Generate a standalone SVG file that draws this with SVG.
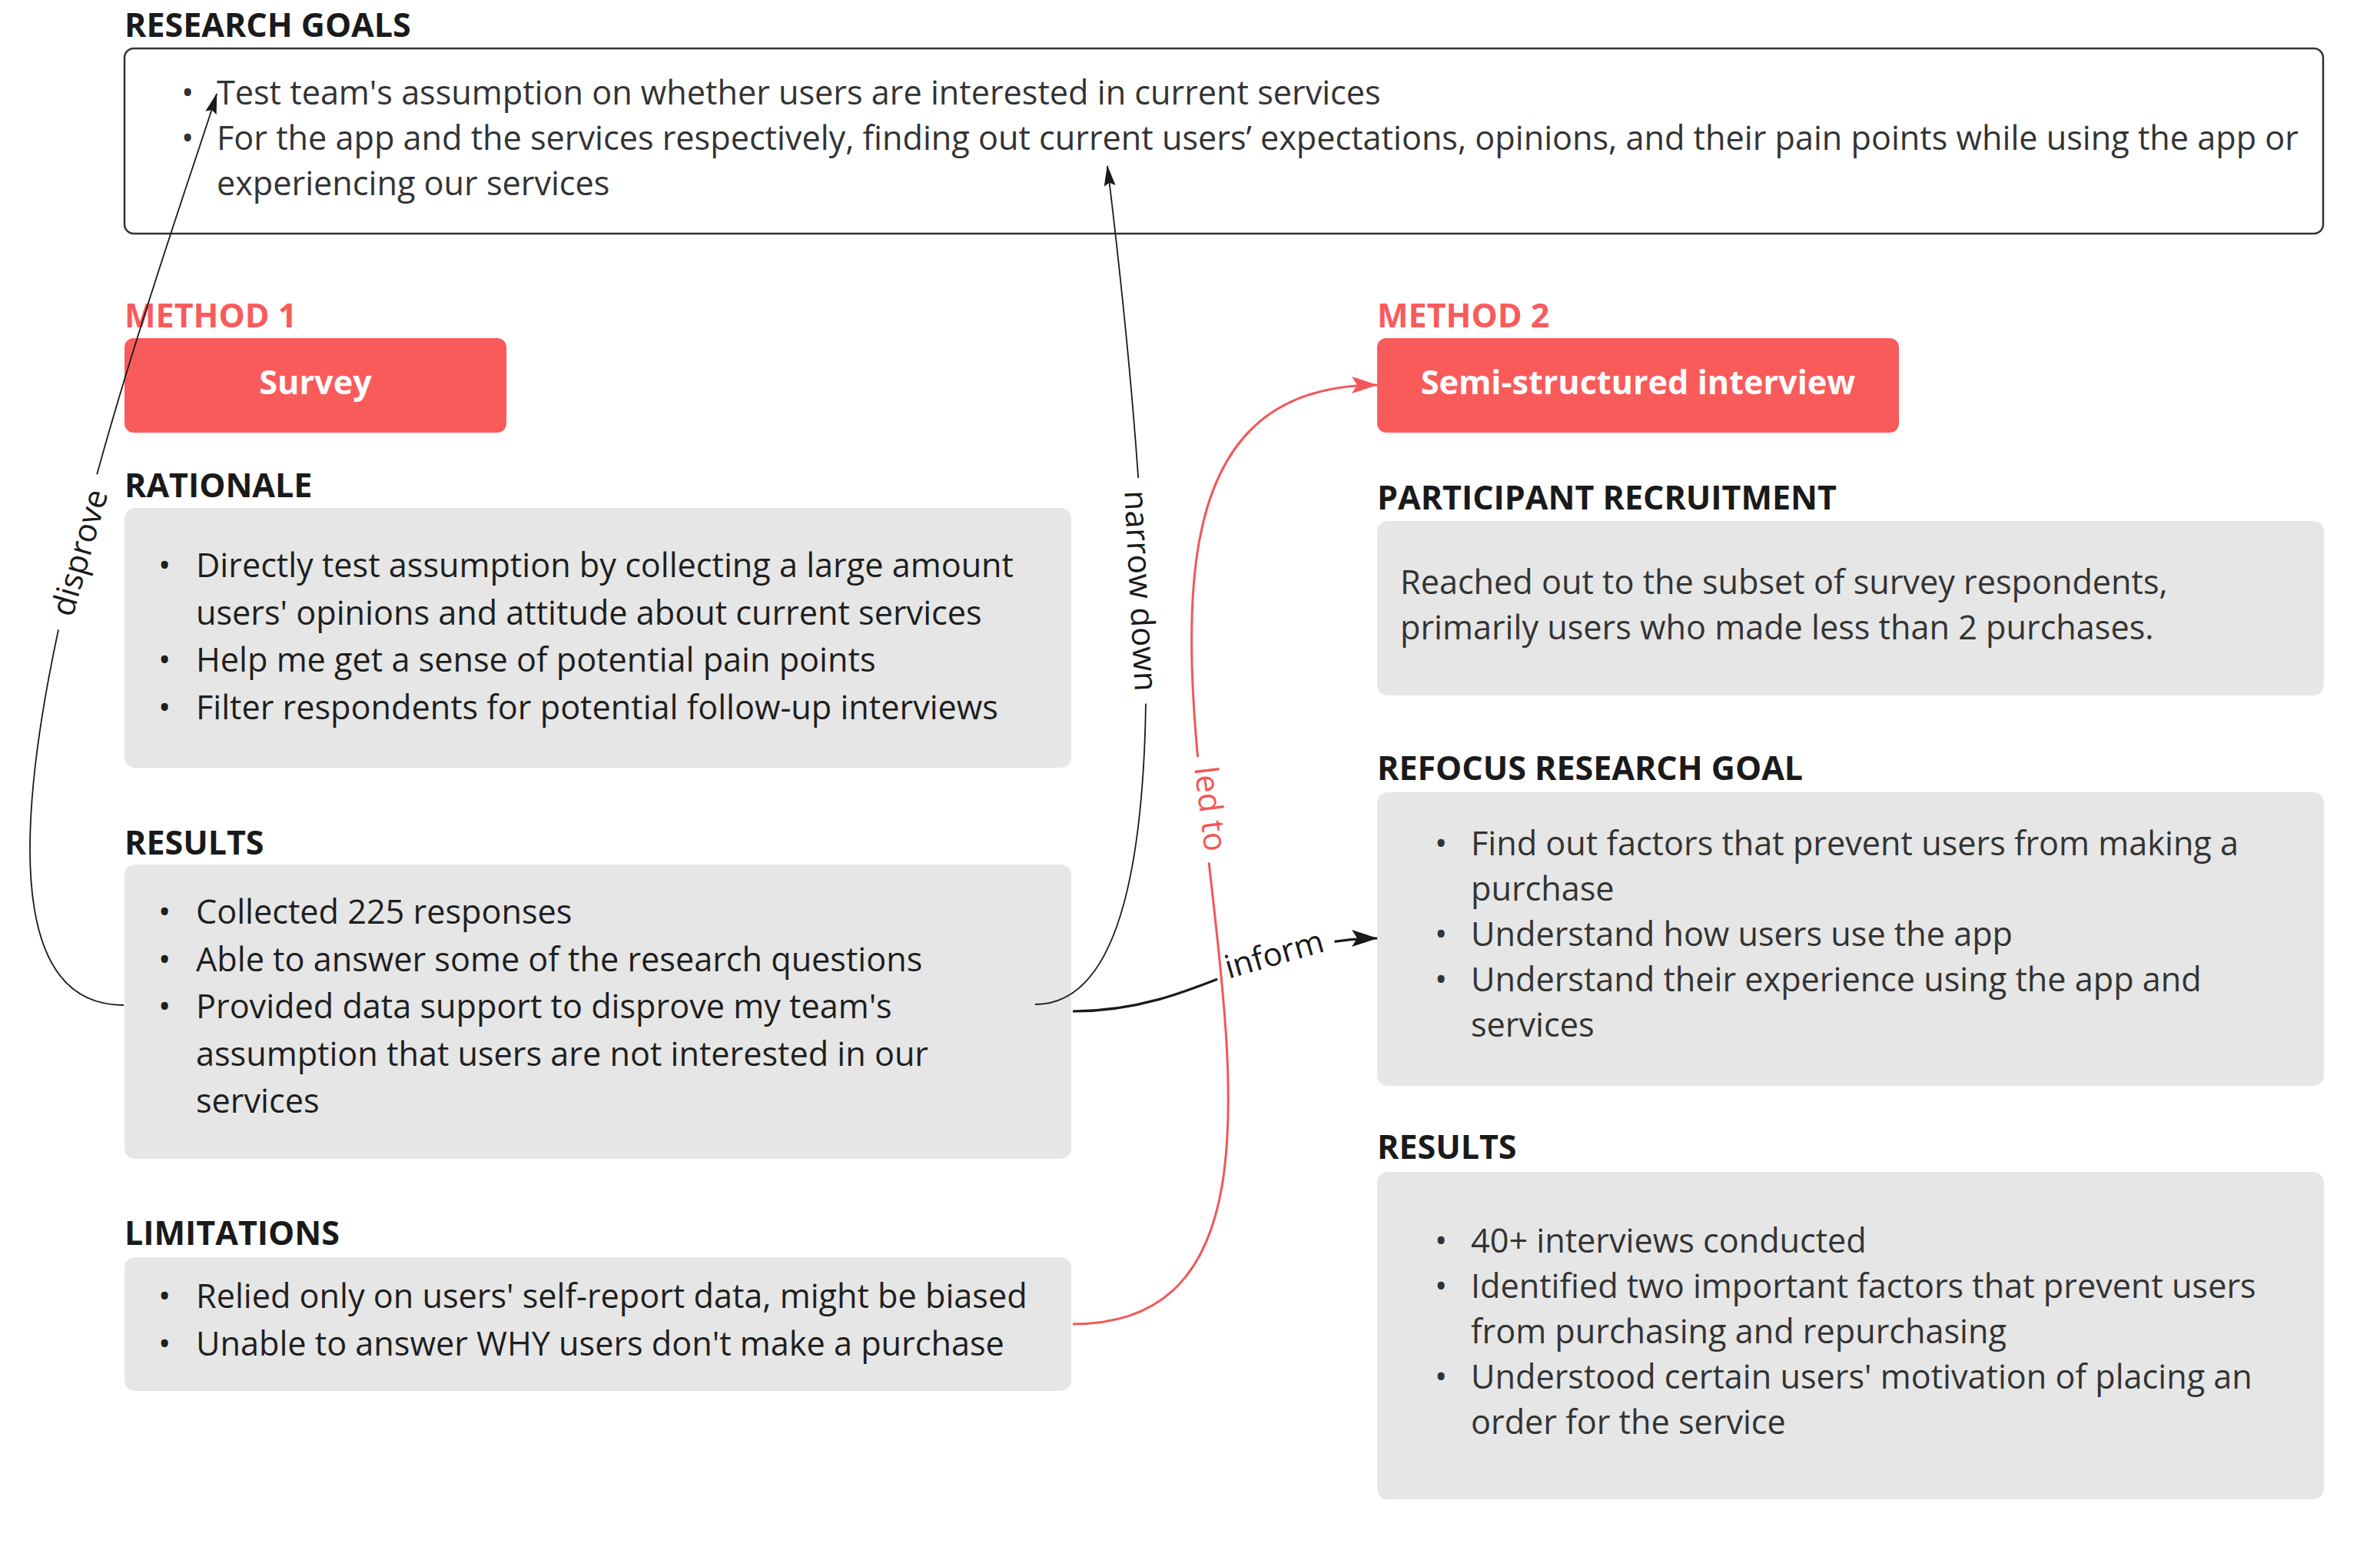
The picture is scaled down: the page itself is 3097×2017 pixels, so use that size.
<svg xmlns="http://www.w3.org/2000/svg" width="3097" height="2017" viewBox="0 0 3097 2017">
<style>
.h{font-family:"Open Sans","Noto Sans",sans-serif;font-weight:700;font-size:43px;fill:#1a1a1a}
.m{font-family:"Open Sans","Noto Sans",sans-serif;font-weight:700;font-size:43px;fill:#f95b5b}
.bt{font-family:"Open Sans","Noto Sans",sans-serif;font-weight:700;font-size:43.2px;fill:#ffffff}
.tl{font-family:"Open Sans","Noto Sans",sans-serif;font-size:43.2px;fill:#1e1e1e}
.tr{font-family:"Open Sans","Noto Sans",sans-serif;font-size:43.2px;fill:#333333}
.box{fill:#e6e6e6}
.btn{fill:#f95b5b}
.lbl{font-family:"Open Sans","Noto Sans",sans-serif;font-size:42px;fill:#1a1a1a}
.lblr{font-family:"Open Sans","Noto Sans",sans-serif;font-size:42px;fill:#f25757}
.bg{fill:#ffffff}
</style>
<defs>
<marker id="ah" markerUnits="userSpaceOnUse" viewBox="0 0 27 15" refX="26" refY="7.5" markerWidth="27" markerHeight="15" orient="auto">
<path d="M0,0 L27,7.5 L0,15 L4,7.5 Z" fill="#1a1a1a"/>
</marker>
<marker id="ahb" markerUnits="userSpaceOnUse" viewBox="0 0 34 22" refX="33" refY="11" markerWidth="34" markerHeight="22" orient="auto">
<path d="M0,0 L34,11 L0,22 L7,11 Z" fill="#1a1a1a"/>
</marker>
<marker id="ahr" markerUnits="userSpaceOnUse" viewBox="0 0 34 22" refX="33" refY="11" markerWidth="34" markerHeight="22" orient="auto">
<path d="M0,0 L34,11 L0,22 L7,11 Z" fill="#f25757"/>
</marker>
</defs>
<rect width="3097" height="2017" fill="#ffffff"/>

<g id="research-goals">
<text class="h" x="162" y="48">RESEARCH GOALS</text>
<rect x="162" y="63" width="2861" height="241" rx="12" fill="#ffffff" stroke="#333333" stroke-width="2.5"/>
<text class="tr"><tspan x="236" y="136">•</tspan><tspan x="236" y="195">•</tspan></text>
<text class="tr"><tspan x="282" y="136">Test team's assumption on whether users are interested in current services</tspan><tspan x="282" y="195">For the app and the services respectively, finding out current users’ expectations, opinions, and their pain points while using the app or</tspan><tspan x="282" y="254">experiencing our services</tspan></text>
</g>

<g id="method1">
<text class="m" x="162" y="426">METHOD 1</text>
<rect class="btn" x="162" y="440" width="497" height="123" rx="12"/>
<text class="bt" x="410.5" y="513" text-anchor="middle">Survey</text>
</g>

<g id="rationale">
<text class="h" x="162" y="647">RATIONALE</text>
<rect class="box" x="162" y="661" width="1232" height="338" rx="14"/>
<text class="tl"><tspan x="206" y="751">•</tspan><tspan x="206" y="874">•</tspan><tspan x="206" y="936">•</tspan></text>
<text class="tl"><tspan x="255" y="751">Directly test assumption by collecting a large amount</tspan><tspan x="255" y="812.6">users' opinions and attitude about current services</tspan><tspan x="255" y="874.2">Help me get a sense of potential pain points</tspan><tspan x="255" y="935.8">Filter respondents for potential follow-up interviews</tspan></text>
</g>

<g id="results1">
<text class="h" x="162" y="1112">RESULTS</text>
<rect class="box" x="162" y="1125" width="1232" height="383" rx="14"/>
<text class="tl"><tspan x="206" y="1202">•</tspan><tspan x="206" y="1263.6">•</tspan><tspan x="206" y="1325.2">•</tspan></text>
<text class="tl"><tspan x="255" y="1202">Collected 225 responses</tspan><tspan x="255" y="1263.6">Able to answer some of the research questions</tspan><tspan x="255" y="1325.2">Provided data support to disprove my team's</tspan><tspan x="255" y="1386.8">assumption that users are not interested in our</tspan><tspan x="255" y="1448.4">services</tspan></text>
</g>

<g id="limitations">
<text class="h" x="162" y="1620">LIMITATIONS</text>
<rect class="box" x="162" y="1636" width="1232" height="174" rx="14"/>
<text class="tl"><tspan x="206" y="1702">•</tspan><tspan x="206" y="1763.6">•</tspan></text>
<text class="tl"><tspan x="255" y="1702">Relied only on users' self-report data, might be biased</tspan><tspan x="255" y="1763.6">Unable to answer WHY users don't make a purchase</tspan></text>
</g>

<g id="method2">
<text class="m" x="1792" y="426">METHOD 2</text>
<rect class="btn" x="1792" y="440" width="679" height="123" rx="12"/>
<text class="bt" x="2131.5" y="513" text-anchor="middle">Semi-structured interview</text>
</g>

<g id="participant-recruitment">
<text class="h" x="1792" y="663">PARTICIPANT RECRUITMENT</text>
<rect class="box" x="1792" y="678" width="1232" height="227" rx="14"/>
<text class="tr"><tspan x="1822" y="773">Reached out to the subset of survey respondents,</tspan><tspan x="1822" y="832">primarily users who made less than 2 purchases.</tspan></text>
</g>

<g id="refocus">
<text class="h" x="1792" y="1015">REFOCUS RESEARCH GOAL</text>
<rect class="box" x="1792" y="1031" width="1232" height="382" rx="14"/>
<text class="tr"><tspan x="1867" y="1113">•</tspan><tspan x="1867" y="1231">•</tspan><tspan x="1867" y="1290">•</tspan></text>
<text class="tr"><tspan x="1914" y="1113">Find out factors that prevent users from making a</tspan><tspan x="1914" y="1172">purchase</tspan><tspan x="1914" y="1231">Understand how users use the app</tspan><tspan x="1914" y="1290">Understand their experience using the app and</tspan><tspan x="1914" y="1349">services</tspan></text>
</g>

<g id="results2">
<text class="h" x="1792" y="1508">RESULTS</text>
<rect class="box" x="1792" y="1525" width="1232" height="426" rx="14"/>
<text class="tr"><tspan x="1867" y="1630">•</tspan><tspan x="1867" y="1689">•</tspan><tspan x="1867" y="1807">•</tspan></text>
<text class="tr"><tspan x="1914" y="1630">40+ interviews conducted</tspan><tspan x="1914" y="1689">Identified two important factors that prevent users</tspan><tspan x="1914" y="1748">from purchasing and repurchasing</tspan><tspan x="1914" y="1807">Understood certain users' motivation of placing an</tspan><tspan x="1914" y="1866">order for the service</tspan></text>
</g>

<g id="connectors">
<path id="c-disprove" d="M161,1308 C-150,1308 225,310 282,122" fill="none" stroke="#1a1a1a" stroke-width="1.8" marker-end="url(#ah)"/>
<g transform="translate(107,720) rotate(-74)"><rect class="bg" x="-104" y="-20" width="208" height="40"/><text class="lbl" x="0" y="11" text-anchor="middle">disprove</text></g>

<path id="c-narrow" d="M1347,1307 C1545,1307 1500,700 1441,216" fill="none" stroke="#1a1a1a" stroke-width="1.8" marker-end="url(#ah)"/>
<g transform="translate(1481,769) rotate(87)"><rect class="bg" x="-147" y="-20" width="294" height="40"/><text class="lbl" x="0" y="11" text-anchor="middle">narrow down</text></g>

<path id="c-inform" d="M1396,1316 C1560,1316 1640,1221 1792,1221" fill="none" stroke="#1a1a1a" stroke-width="3.2" marker-end="url(#ahb)"/>
<g transform="translate(1659,1245) rotate(-16)"><rect class="bg" x="-80" y="-22" width="160" height="44"/><text class="lbl" x="0" y="11" text-anchor="middle">inform</text></g>

<path id="c-ledto" d="M1396,1723 C1902,1723 1227,501 1792,501" fill="none" stroke="#f25757" stroke-width="3" marker-end="url(#ahr)"/>
<g transform="translate(1572,1053) rotate(83)"><rect class="bg" x="-69" y="-20" width="138" height="40"/><text class="lblr" x="0" y="11" text-anchor="middle">led to</text></g>
</g>
</svg>
